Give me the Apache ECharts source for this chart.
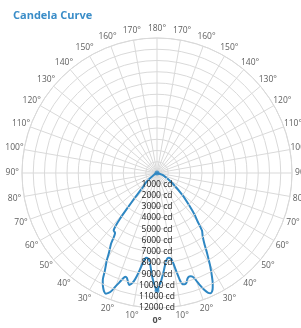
<!DOCTYPE html>
<html>
<head>
<meta charset="utf-8">
<title></title>
<script src="https://cdn.jsdelivr.net/npm/echarts@6/dist/echarts.min.js"></script>
<style>
  html, body { margin: 0; padding: 0; background: #fff; }
  #chart { width: 301px; height: 328px; }
</style>
</head>
<body>
<div id="chart"></div>
<script>
// angles measured from nadir (0°) up to 180°, values in cd
var rightAngles = [0, 1, 2, 3, 4, 5, 6, 7, 8, 9, 10, 11, 12, 13, 14, 15, 16, 17, 18, 19, 20, 21, 22, 23, 24, 25, 26, 27, 28, 29, 30, 32, 34, 36, 38, 40, 42, 45, 49, 56, 70, 90];
var rightCd = [10450, 10100, 9700, 9200, 8700, 8200, 7850, 7650, 7600, 7700, 8000, 8800, 9700, 10150, 10200, 10100, 9800, 9650, 9650, 9750, 10150, 10700, 11200, 11550, 11700, 11600, 11300, 10900, 10400, 9900, 9400, 8400, 7500, 6900, 6500, 5600, 5000, 4000, 3000, 1700, 600, 0];
var leftAngles = [0, 1, 2, 3, 4, 5, 6, 7, 8, 9, 10, 11, 12, 13, 14, 15, 16, 17, 18, 19, 20, 21, 22, 23, 24, 25, 26, 27, 28, 30, 31, 33, 35, 37, 38, 39, 40, 42, 45, 50, 60, 90];
var leftCd = [10450, 10100, 9600, 9000, 8300, 7800, 7650, 7600, 7700, 8100, 8700, 9300, 9800, 10100, 10250, 10000, 9700, 9650, 9900, 10300, 10700, 11200, 11500, 11650, 11550, 11300, 11000, 10600, 9900, 8900, 8300, 7500, 6500, 6400, 6000, 5200, 4200, 2900, 1800, 1200, 300, 0];
var cdTicks = [0, 1000, 2000, 3000, 4000, 5000, 6000, 7000, 8000, 9000, 10000, 11000, 12000];
var angleTicks = [];
for (var t = 0; t < 360; t += 10) angleTicks.push(t);
var markerPoints = [[10450, 0], [0, 180]];

var lineData = [];
for (var i = rightAngles.length - 1; i >= 0; i--) {
    lineData.push([rightCd[i], rightAngles[i]]);
}
for (var j = 0; j < leftAngles.length; j++) {
    lineData.push([leftCd[j], 360 - leftAngles[j]]);
}

// angle labels sit centred just outside the outer ring
var cdMax = cdTicks[cdTicks.length - 1];
var angleLabelData = angleTicks.map(function (a) {
    return [cdMax * (a === 0 ? 1.09 : 1.072), a];
});

var myChart = echarts.init(document.getElementById('chart'));
var option = {
    animation: false,
    title: {
        text: 'Candela Curve',
        left: 8,
        top: 5,
        textStyle: { color: '#3a8dc8', fontSize: 11, fontWeight: 'bold', fontFamily: 'Open Sans' }
    },
    polar: {
        center: [157, 173],
        radius: 135
    },
    angleAxis: {
        type: 'value',
        min: 0,
        max: 360,
        interval: 10,
        startAngle: 270,
        clockwise: false,
        axisLine: { show: true, lineStyle: { color: '#d9d9d9', width: 1 } },
        axisTick: { show: false },
        splitLine: { show: true, lineStyle: { color: '#d9d9d9', width: 1 } },
        axisLabel: { show: false }
    },
    radiusAxis: {
        type: 'value',
        min: cdTicks[0],
        max: cdMax,
        interval: 1000,
        axisLine: { show: false },
        axisTick: { show: false },
        splitLine: { show: true, lineStyle: { color: '#d9d9d9', width: 1 } },
        axisLabel: {
            showMinLabel: false,
            margin: 0,
            align: 'center',
            verticalAlign: 'middle',
            color: '#222',
            fontSize: 8.5,
            fontFamily: 'Open Sans',
            formatter: function (v) { return v + ' cd'; }
        },
        z: 10
    },
    series: [{
        type: 'line',
        coordinateSystem: 'polar',
        data: lineData,
        showSymbol: false,
        smooth: 0.2,
        lineStyle: { color: '#2e87c3', width: 2 }
    }, {
        type: 'scatter',
        coordinateSystem: 'polar',
        data: markerPoints,
        symbolSize: 5,
        itemStyle: { color: '#2e87c3' }
    }, {
        type: 'scatter',
        coordinateSystem: 'polar',
        data: angleLabelData,
        symbolSize: 0,
        silent: true,
        clip: false,
        label: {
            show: true,
            position: 'inside',
            color: '#333',
            fontSize: 8.5,
            fontFamily: 'Open Sans',
            formatter: function (p) {
                var v = p.value[1];
                var a = v <= 180 ? v : 360 - v;
                if (a === 0) return '{b|0°}';
                return a + '°';
            },
            rich: { b: { fontWeight: 'bold', fontSize: 9, color: '#222', fontFamily: 'Open Sans' } }
        }
    }]
};
myChart.setOption(option);
</script>
</body>
</html>
